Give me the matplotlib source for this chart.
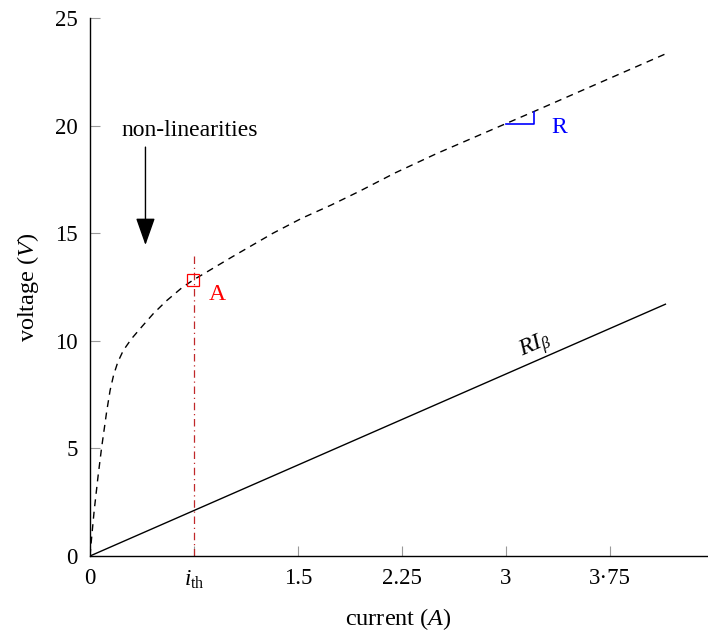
import matplotlib
matplotlib.use("Agg")
import matplotlib.pyplot as plt

plt.rcParams["font.family"] = ["Liberation Serif", "DejaVu Serif"]
plt.rcParams["mathtext.fontset"] = "custom"
plt.rcParams["mathtext.rm"] = "Liberation Serif"
plt.rcParams["mathtext.it"] = "Liberation Serif:italic"

# Measured V-I characteristic (dashed)
current = [0.0, 0.008, 0.03, 0.058, 0.083, 0.12, 0.145, 0.17, 0.2, 0.24,
           0.30, 0.38, 0.455, 0.55, 0.66, 0.745, 0.817, 1.02, 1.32, 1.526,
           1.74, 1.947, 2.2, 2.5, 3.2, 4.15]
voltage = [0.0, 0.6, 2.1, 3.7, 5.0, 6.7, 7.7, 8.4, 9.0, 9.55,
           10.1, 10.7, 11.25, 11.85, 12.45, 12.83, 13.1, 13.88, 15.0, 15.69,
           16.31, 16.96, 17.8, 18.7, 20.65, 23.33]

# Ohmic line R*I_beta
ri_current = [0.0, 4.15]
ri_voltage = [0.0, 11.7]

# Threshold current and operating point A
i_th = 0.75
i_th_top = 14.05
point_a = (0.745, 12.83)

# Slope triangle for R
tri_x = [3.0, 3.2, 3.2]
tri_y = [20.06, 20.06, 20.65]

xticks = [0, 0.75, 1.5, 2.25, 3, 3.75]
xticklabels = ["0", r"$i_{\mathrm{th}}$", "1.5", "2.25", "3", "3·75"]
yticks = [0, 5, 10, 15, 20, 25]

fig = plt.figure(figsize=(7.08, 6.37), dpi=100)
ax = fig.add_axes([90 / 708, 81 / 637, 617 / 708, 538 / 637])
ax.set_xlim(0, 4.45)
ax.set_ylim(0, 25)

ax.plot(current, voltage, color="black", lw=1.0, linestyle=(0, (5, 4)))
ax.plot(ri_current, ri_voltage, color="black", lw=1.0)
ax.plot([i_th, i_th], [0, i_th_top], color="#c0282a", lw=0.9,
        linestyle=(0, (6, 3, 1, 3)))
ax.plot([point_a[0]], [point_a[1]], marker="s", markersize=8,
        markerfacecolor="none", markeredgecolor="red", markeredgewidth=0.9)
ax.text(0.86, 12.15, "A", color="red", fontsize=17, ha="left", va="center")

ax.plot(tri_x, tri_y, color="blue", lw=1.2)
ax.text(3.33, 19.9, "R", color="blue", fontsize=17, ha="left", va="center")

ax.text(3.21, 9.75, r"$RI_{\beta}$", fontsize=17, rotation=23.7,
        ha="center", va="center")

ax.text(0.72, 19.75, "non-linearities", fontsize=17, ha="center", va="center")
ax.annotate("", xy=(0.40, 14.45), xytext=(0.40, 19.0),
            arrowprops=dict(arrowstyle="-|>,head_length=1.7,head_width=0.6",
                            mutation_scale=10, color="black", lw=1.0,
                            shrinkA=0, shrinkB=0))

for s in ["top", "right"]:
    ax.spines[s].set_visible(False)
for s in ["left", "bottom"]:
    ax.spines[s].set_linewidth(1.0)

ax.set_xticks(xticks)
ax.set_xticklabels(xticklabels, fontsize=16.5)
ax.set_yticks(yticks)
ax.set_yticklabels([str(v) for v in yticks], fontsize=16.5)
ax.tick_params(direction="in", length=7, width=0.8, color="#999999", pad=9)
ax.get_xticklines()[2].set_color("red")
ax.get_xticklines()[3].set_color("red")

ax.set_xlabel(r"current ($A$)", fontsize=17.5, labelpad=11)
ax.set_ylabel(r"voltage ($V$)", fontsize=17.5, labelpad=10)

fig.savefig("out.png", dpi=100)
